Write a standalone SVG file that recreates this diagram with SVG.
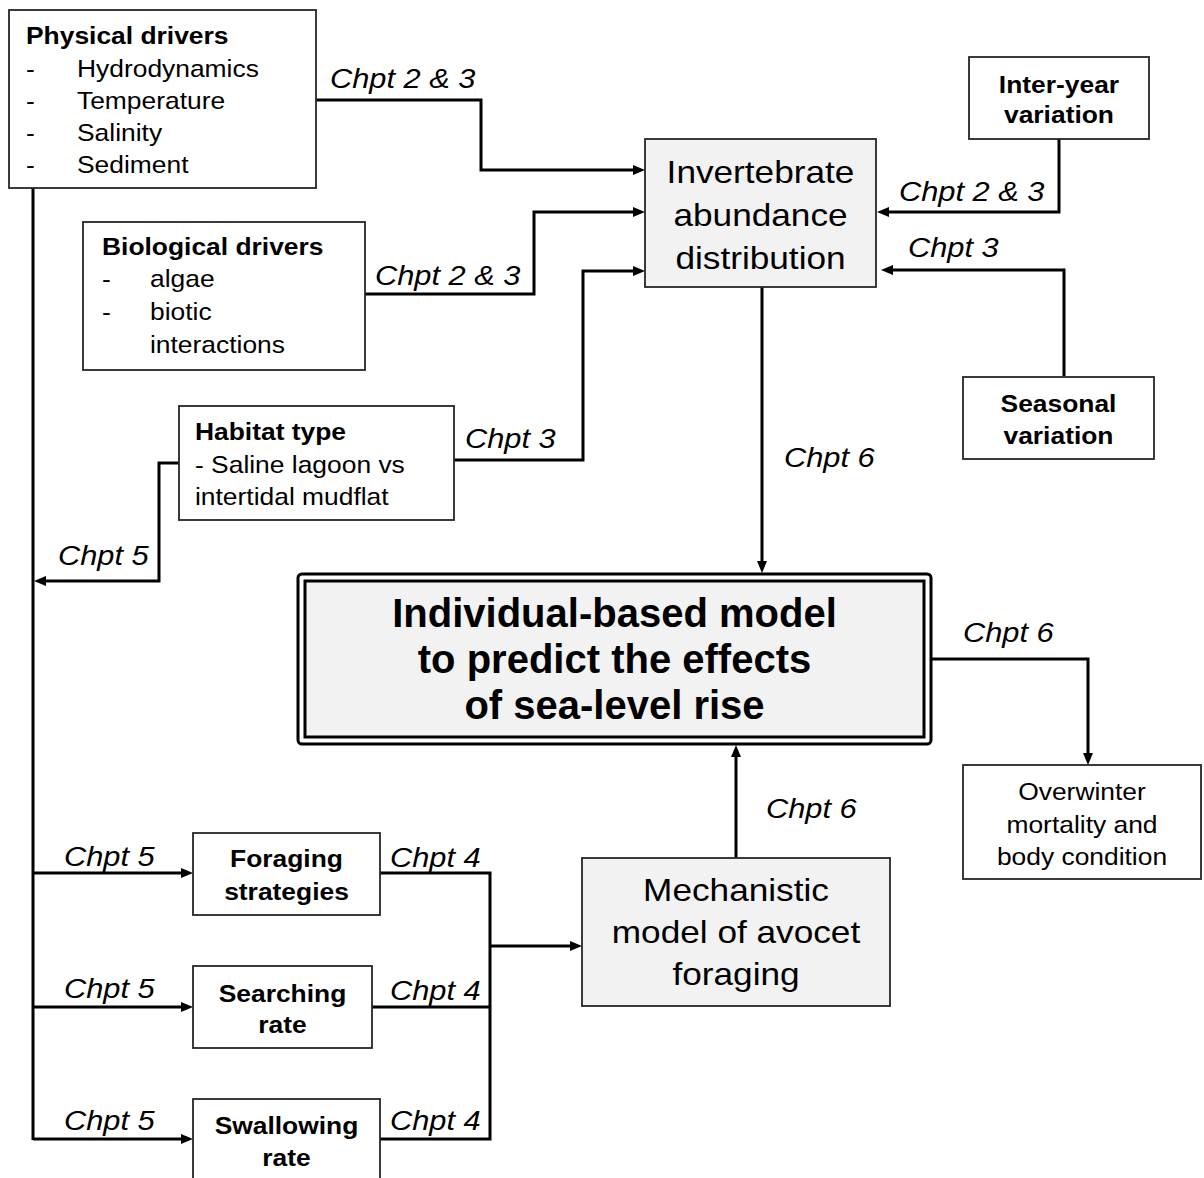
<svg xmlns="http://www.w3.org/2000/svg" width="1204" height="1178" viewBox="0 0 1204 1178">
<style>
.box{fill:#fff;stroke:#262626;stroke-width:1.8}
.gray{fill:#f2f2f2}
.t{font-family:"Liberation Sans",Arial,sans-serif;font-size:24px;fill:#000}
.b{font-weight:bold}
.c{text-anchor:middle}
.ch{font-family:"Liberation Sans",Arial,sans-serif;font-style:italic;font-size:28px;fill:#000}
.big{font-size:32px}
.line{fill:none;stroke:#000;stroke-width:3}
</style>
<defs>
<marker id="ah" viewBox="0 0 12 10" markerWidth="12" markerHeight="10" markerUnits="userSpaceOnUse" refX="0" refY="5" orient="auto">
<path d="M0,0 L12,5 L0,10 z" fill="#000"/>
</marker>
</defs>
<rect width="1204" height="1178" fill="#fff"/>

<g id="connectors">
<path class="line" d="M316,100 H481 V170 H633" marker-end="url(#ah)"/>
<path class="line" d="M365,294 H534 V212 H633" marker-end="url(#ah)"/>
<path class="line" d="M454,460 H583 V271 H633" marker-end="url(#ah)"/>
<path class="line" d="M1059,139 V212 H889" marker-end="url(#ah)"/>
<path class="line" d="M1064,376 V270 H893" marker-end="url(#ah)"/>
<path class="line" d="M762,287 V561" marker-end="url(#ah)"/>
<path class="line" d="M736,858 V757" marker-end="url(#ah)"/>
<path class="line" d="M932,659 H1088 V753" marker-end="url(#ah)"/>
<path class="line" d="M179,463 H159 V581 H46" marker-end="url(#ah)"/>
<path class="line" d="M33,188 V1140"/>
<path class="line" d="M33,873 H181" marker-end="url(#ah)"/>
<path class="line" d="M33,1007 H181" marker-end="url(#ah)"/>
<path class="line" d="M33,1139 H181" marker-end="url(#ah)"/>
<path class="line" d="M380,873 H490 V1139 H380"/>
<path class="line" d="M372,1007 H490"/>
<path class="line" d="M490,946 H570" marker-end="url(#ah)"/>
<text class="ch" transform="translate(330 88) scale(1.1 1)">Chpt 2 &amp; 3</text>
<text class="ch" transform="translate(899 201) scale(1.1 1)">Chpt 2 &amp; 3</text>
<text class="ch" transform="translate(908 257) scale(1.1 1)">Chpt 3</text>
<text class="ch" transform="translate(375 285) scale(1.1 1)">Chpt 2 &amp; 3</text>
<text class="ch" transform="translate(465 448) scale(1.1 1)">Chpt 3</text>
<text class="ch" transform="translate(58 565) scale(1.1 1)">Chpt 5</text>
<text class="ch" transform="translate(784 467) scale(1.1 1)">Chpt 6</text>
<text class="ch" transform="translate(963 642) scale(1.1 1)">Chpt 6</text>
<text class="ch" transform="translate(766 818) scale(1.1 1)">Chpt 6</text>
<text class="ch" transform="translate(64 866) scale(1.1 1)">Chpt 5</text>
<text class="ch" transform="translate(64 998) scale(1.1 1)">Chpt 5</text>
<text class="ch" transform="translate(64 1130) scale(1.1 1)">Chpt 5</text>
<text class="ch" transform="translate(390 867) scale(1.1 1)">Chpt 4</text>
<text class="ch" transform="translate(390 1000) scale(1.1 1)">Chpt 4</text>
<text class="ch" transform="translate(390 1130) scale(1.1 1)">Chpt 4</text>
</g>

<g id="physical">
<rect class="box" x="9" y="10" width="307" height="178"/>
<text class="t b" transform="translate(26 44) scale(1.1 1)">Physical drivers</text>
<text class="t" transform="translate(26 77) scale(1.1 1)">-</text>
<text class="t" transform="translate(77 77) scale(1.1 1)">Hydrodynamics</text>
<text class="t" transform="translate(26 109) scale(1.1 1)">-</text>
<text class="t" transform="translate(77 109) scale(1.1 1)">Temperature</text>
<text class="t" transform="translate(26 141) scale(1.1 1)">-</text>
<text class="t" transform="translate(77 141) scale(1.1 1)">Salinity</text>
<text class="t" transform="translate(26 173) scale(1.1 1)">-</text>
<text class="t" transform="translate(77 173) scale(1.1 1)">Sediment</text>
</g>

<g id="biological">
<rect class="box" x="83" y="222" width="282" height="148"/>
<text class="t b" transform="translate(102 255) scale(1.1 1)">Biological drivers</text>
<text class="t" transform="translate(102 287) scale(1.1 1)">-</text>
<text class="t" transform="translate(150 287) scale(1.1 1)">algae</text>
<text class="t" transform="translate(102 320) scale(1.1 1)">-</text>
<text class="t" transform="translate(150 320) scale(1.1 1)">biotic</text>
<text class="t" transform="translate(150 353) scale(1.1 1)">interactions</text>
</g>

<g id="habitat">
<rect class="box" x="179" y="406" width="275" height="114"/>
<text class="t b" transform="translate(195 440) scale(1.1 1)">Habitat type</text>
<text class="t" transform="translate(195 473) scale(1.1 1)">- Saline lagoon vs</text>
<text class="t" transform="translate(195 505) scale(1.1 1)">intertidal mudflat</text>
</g>

<g id="invertebrate">
<rect class="box gray" x="645" y="139" width="231" height="148"/>
<text class="t big c" transform="translate(760.5 183) scale(1.1 1)">Invertebrate</text>
<text class="t big c" transform="translate(760.5 226) scale(1.1 1)">abundance</text>
<text class="t big c" transform="translate(760.5 269) scale(1.1 1)">distribution</text>
</g>

<g id="interyear">
<rect class="box" x="969" y="57" width="180" height="82"/>
<text class="t b c" transform="translate(1059 93) scale(1.1 1)">Inter-year</text>
<text class="t b c" transform="translate(1059 123) scale(1.1 1)">variation</text>
</g>

<g id="seasonal">
<rect class="box" x="963" y="377" width="191" height="82"/>
<text class="t b c" transform="translate(1058.5 412) scale(1.1 1)">Seasonal</text>
<text class="t b c" transform="translate(1058.5 444) scale(1.1 1)">variation</text>
</g>

<g id="ibm">
<rect x="298" y="574" width="633" height="170" rx="4" fill="#fff" stroke="#000" stroke-width="3"/>
<rect x="305" y="581" width="619" height="156" fill="#f2f2f2" stroke="#000" stroke-width="3"/>
<text class="t b c" style="font-size:40px" x="614.5" y="627">Individual-based model</text>
<text class="t b c" style="font-size:40px" x="614.5" y="673">to predict the effects</text>
<text class="t b c" style="font-size:40px" x="614.5" y="719">of sea-level rise</text>
</g>

<g id="overwinter">
<rect class="box" x="963" y="765" width="238" height="114"/>
<text class="t c" transform="translate(1082 800) scale(1.1 1)">Overwinter</text>
<text class="t c" transform="translate(1082 833) scale(1.1 1)">mortality and</text>
<text class="t c" transform="translate(1082 865) scale(1.1 1)">body condition</text>
</g>

<g id="mechanistic">
<rect class="box gray" x="582" y="858" width="308" height="148"/>
<text class="t big c" transform="translate(736 901) scale(1.1 1)">Mechanistic</text>
<text class="t big c" transform="translate(736 943) scale(1.1 1)">model of avocet</text>
<text class="t big c" transform="translate(736 985) scale(1.1 1)">foraging</text>
</g>

<g id="foraging">
<rect class="box" x="193" y="833" width="187" height="82"/>
<text class="t b c" transform="translate(286.5 867) scale(1.1 1)">Foraging</text>
<text class="t b c" transform="translate(286.5 900) scale(1.1 1)">strategies</text>
</g>

<g id="searching">
<rect class="box" x="193" y="966" width="179" height="82"/>
<text class="t b c" transform="translate(282.5 1002) scale(1.1 1)">Searching</text>
<text class="t b c" transform="translate(282.5 1033) scale(1.1 1)">rate</text>
</g>

<g id="swallowing">
<rect class="box" x="193" y="1099" width="187" height="95"/>
<text class="t b c" transform="translate(286.5 1134) scale(1.1 1)">Swallowing</text>
<text class="t b c" transform="translate(286.5 1166) scale(1.1 1)">rate</text>
</g>
</svg>
